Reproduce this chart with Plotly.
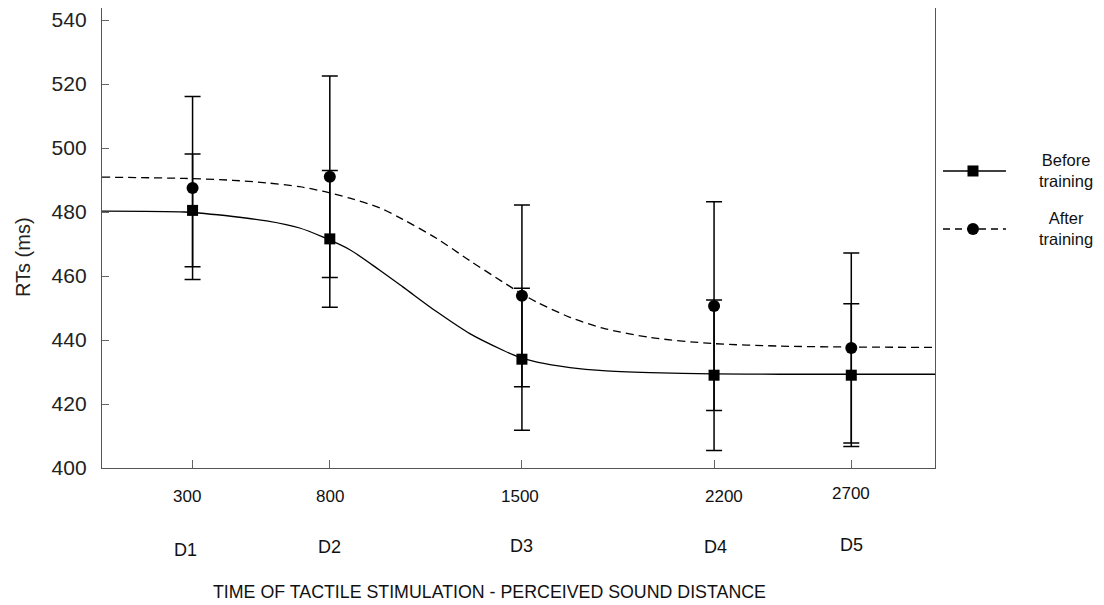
import plotly.graph_objects as go

# ---- data ----
stim_ms = [300, 800, 1500, 2200, 2700]
tick_numbers = ["300", "800", "1500", "2200", "2700"]
tick_distances = ["D1", "D2", "D3", "D4", "D5"]

before_mean = [480.5, 471.6, 434.0, 429.0, 429.0]
before_err = [17.6, 21.4, 22.2, 23.5, 22.3]
after_mean = [487.5, 491.0, 453.8, 450.6, 437.5]
after_err = [28.6, 31.5, 28.4, 32.6, 29.7]

# fitted curves
curve_x = [-30, 271, 447, 570, 690, 774, 873, 982, 1066, 1190, 1310, 1431,
           1485, 1555, 1675, 1795, 1967, 2193, 2441, 2700, 3005]
before_fit = [480.3, 480.0, 478.6, 477.2, 475.0, 472.2, 468.2, 461.8, 456.6,
              448.8, 442.0, 436.8, 434.8, 433.1, 431.4, 430.4, 429.8, 429.4,
              429.3, 429.3, 429.3]
after_fit = [490.9, 490.5, 489.9, 489.1, 487.9, 486.5, 484.3, 481.3, 477.7,
             471.7, 464.8, 458.1, 455.2, 451.8, 447.1, 443.7, 440.8, 438.9,
             438.1, 437.8, 437.7]

y_ticks = [400, 420, 440, 460, 480, 500, 520, 540]

FONT = "Liberation Sans, Arial, sans-serif"

fig = go.Figure()

fig.add_trace(go.Scatter(x=curve_x, y=before_fit, mode="lines",
                         line=dict(color="black", width=1.3, shape="spline", smoothing=0.8),
                         showlegend=False, hoverinfo="skip"))
fig.add_trace(go.Scatter(x=curve_x, y=after_fit, mode="lines",
                         line=dict(color="black", width=1.3, dash="8px,5px",
                                   shape="spline", smoothing=0.8),
                         showlegend=False, hoverinfo="skip"))

fig.add_trace(go.Scatter(x=stim_ms, y=after_mean, mode="markers", name="After training",
                         marker=dict(symbol="circle", size=12, color="black"),
                         error_y=dict(type="data", array=after_err, visible=True,
                                      color="black", thickness=1.5, width=8),
                         showlegend=False))
fig.add_trace(go.Scatter(x=stim_ms, y=before_mean, mode="markers", name="Before training",
                         marker=dict(symbol="square", size=11, color="black"),
                         error_y=dict(type="data", array=before_err, visible=True,
                                      color="black", thickness=1.5, width=8),
                         showlegend=False))

annotations = []
num_shift = [-6, 0, -2, 10, 0]
num_yshift = [0, 0, 0, 0, 3]
d_shift = [-7, 0, 0, 1, 0]
d_yshift = [-3, 0, 1, 0, 2]
for i, x in enumerate(stim_ms):
    annotations.append(dict(x=x, y=-0.063, xref="x", yref="paper", text=tick_numbers[i],
                            showarrow=False, xshift=num_shift[i], yshift=num_yshift[i],
                            xanchor="center", yanchor="middle",
                            font=dict(family=FONT, size=17, color="#111")))
    annotations.append(dict(x=x, y=-0.1717, xref="x", yref="paper", text=tick_distances[i],
                            showarrow=False, xshift=d_shift[i], yshift=d_yshift[i],
                            xanchor="center", yanchor="middle",
                            font=dict(family=FONT, size=18, color="#111")))

annotations.append(dict(x=0.4646, y=-0.2696, xref="paper", yref="paper",
                        text="TIME OF TACTILE STIMULATION - PERCEIVED SOUND DISTANCE",
                        showarrow=False, xanchor="center", yanchor="middle",
                        font=dict(family=FONT, size=17.8, color="#111")))
annotations.append(dict(x=-0.0948, y=0.4587, xref="paper", yref="paper", text="RTs (ms)",
                        textangle=-90, showarrow=False, xanchor="center", yanchor="middle",
                        font=dict(family=FONT, size=20, color="#222")))

# legend (manual)
annotations.append(dict(x=1.1573, y=0.6478, xref="paper", yref="paper",
                        text="Before<br>training", showarrow=False, align="center",
                        xanchor="center", yanchor="middle",
                        font=dict(family=FONT, size=16.5, color="#111")))
annotations.append(dict(x=1.1573, y=0.5217, xref="paper", yref="paper",
                        text="After<br>training", showarrow=False, align="center",
                        xanchor="center", yanchor="middle",
                        font=dict(family=FONT, size=16.5, color="#111")))

ly1, ly2 = 0.6457, 0.5196
shapes = [
    dict(type="line", xref="paper", yref="paper", x0=1.0096, x1=1.0852, y0=ly1, y1=ly1,
         line=dict(color="black", width=1.5)),
    dict(type="rect", xref="paper", yref="paper", x0=1.0456 - 0.0066, x1=1.0456 + 0.0066,
         y0=ly1 - 0.012, y1=ly1 + 0.012, fillcolor="black", line=dict(width=0)),
    dict(type="line", xref="paper", yref="paper", x0=1.0096, x1=1.0852, y0=ly2, y1=ly2,
         line=dict(color="black", width=1.5, dash="7px,5px")),
    dict(type="circle", xref="paper", yref="paper", x0=1.0456 - 0.0072, x1=1.0456 + 0.0072,
         y0=ly2 - 0.013, y1=ly2 + 0.013, fillcolor="black", line=dict(width=0)),
]

fig.update_layout(
    width=1096, height=597,
    margin=dict(l=94, r=169, t=0, b=137, pad=0),
    paper_bgcolor="white", plot_bgcolor="white",
    showlegend=False,
    annotations=annotations, shapes=shapes,
    xaxis=dict(range=[-30, 3005], tickvals=stim_ms, ticktext=[""] * 5,
               ticks="inside", ticklen=8, tickcolor="#666", tickwidth=1.3,
               showgrid=False, zeroline=False, showline=True, linecolor="#555",
               linewidth=1.3, mirror=True),
    yaxis=dict(range=[400, 543.75], tickvals=y_ticks, ticks="inside", ticklen=7,
               tickcolor="#666", tickwidth=1.3, showgrid=False, zeroline=False,
               showline=True, linecolor="#555", linewidth=1.3, mirror=True,
               ticklabelstandoff=10,
               tickfont=dict(family=FONT, size=21, color="#222")),
)

fig.write_html("out.html")
